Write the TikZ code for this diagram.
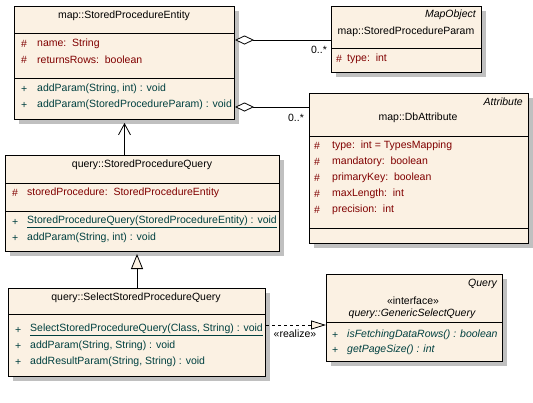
\documentclass[tikz,border=0pt]{standalone}
\usepackage{fontspec}
\setmainfont{Liberation Sans}
\usetikzlibrary{arrows.meta,shadows,calc}
\definecolor{classfill}{RGB}{251,241,227}
\definecolor{attrred}{RGB}{128,0,0}
\definecolor{opteal}{RGB}{0,64,64}
\definecolor{shadowgray}{RGB}{192,192,192}

\begin{document}
\begin{tikzpicture}[x=1pt,y=-1pt,
  font=\fontsize{10.5}{12}\selectfont,
  classbox/.style={draw=black, line width=1pt, fill=classfill, inner sep=0pt, anchor=north west,
    drop shadow={shadow xshift=4pt, shadow yshift=-4pt, fill=shadowgray, opacity=1}},
  txt/.style={inner sep=0pt},
  attr/.style={txt, anchor=west, text=attrred},
  op/.style={txt, anchor=west, text=opteal},
  stereo/.style={txt, anchor=east, font=\fontsize{10.5}{12}\selectfont\itshape},
  sep/.style={line width=1pt},
  link/.style={line width=1pt}
]
\useasboundingbox (0,0) rectangle (533,402);

% map::StoredProcedureEntity
\node[classbox, minimum width=220pt, minimum height=113pt] (entity) at (14,6) {};
\draw[sep] (entity.west |- 0,33) -- (entity.east |- 0,33);
\draw[sep] (entity.west |- 0,78) -- (entity.east |- 0,78);
\node[txt] (entityName) at (124,16) {map::StoredProcedureEntity};
\node[attr] (entityH1) at (21,44) {\#};
\node[attr] (entityA1) at (37,44) {name:\ \ String};
\node[attr] (entityH2) at (21,60) {\#};
\node[attr] (entityA2) at (37,60) {returnsRows:\ \ boolean};
\node[op] (entityP1) at (21,89) {+};
\node[op] (entityM1) at (37,89) {addParam(String, int) : void};
\node[op] (entityP2) at (21,105) {+};
\node[op] (entityM2) at (37,105) {addParam(StoredProcedureParam) : void};

% map::StoredProcedureParam
\node[classbox, minimum width=150pt, minimum height=66pt] (param) at (331,6) {};
\draw[sep] (param.west |- 0,48) -- (param.east |- 0,48);
\node[stereo] (paramSuper) at (476,15) {MapObject};
\node[txt] (paramName) at (406,32) {map::StoredProcedureParam};
\node[attr] (paramH1) at (336,59) {\#};
\node[attr] (paramA1) at (347,59) {type:\ \ int};

% map::DbAttribute
\node[classbox, minimum width=219pt, minimum height=150pt] (dbattr) at (309,93) {};
\draw[sep] (dbattr.west |- 0,136) -- (dbattr.east |- 0,136);
\draw[sep] (dbattr.west |- 0,228) -- (dbattr.east |- 0,228);
\node[stereo] (dbattrSuper) at (523,102) {Attribute};
\node[txt] (dbattrName) at (418,118) {map::DbAttribute};
\node[attr] (dbattrH1) at (314,146) {\#};
\node[attr] (dbattrA1) at (332,146) {type:\ \ int = TypesMapping};
\node[attr] (dbattrH2) at (314,162) {\#};
\node[attr] (dbattrA2) at (332,162) {mandatory:\ \ boolean};
\node[attr] (dbattrH3) at (314,178) {\#};
\node[attr] (dbattrA3) at (332,178) {primaryKey:\ \ boolean};
\node[attr] (dbattrH4) at (314,194) {\#};
\node[attr] (dbattrA4) at (332,194) {maxLength:\ \ int};
\node[attr] (dbattrH5) at (314,210) {\#};
\node[attr] (dbattrA5) at (332,210) {precision:\ \ int};

% query::StoredProcedureQuery
\node[classbox, minimum width=274pt, minimum height=96pt] (query) at (5,155) {};
\draw[sep] (query.west |- 0,183) -- (query.east |- 0,183);
\draw[sep] (query.west |- 0,211) -- (query.east |- 0,211);
\node[txt] (queryName) at (142,165) {query::StoredProcedureQuery};
\node[attr] (queryH1) at (12,193) {\#};
\node[attr] (queryA1) at (27,193) {storedProcedure:\ \ StoredProcedureEntity};
\node[op] (queryP1) at (12,222) {+};
\node[op] (queryM1) at (27,222) {\underline{StoredProcedureQuery(StoredProcedureEntity) : void}};
\node[op] (queryP2) at (12,238) {+};
\node[op] (queryM2) at (27,238) {addParam(String, int) : void};

% query::SelectStoredProcedureQuery
\node[classbox, minimum width=257pt, minimum height=88pt] (select) at (8,288) {};
\draw[sep] (select.west |- 0,314) -- (select.east |- 0,314);
\node[txt] (selectName) at (136,298) {query::SelectStoredProcedureQuery};
\node[op] (selectP1) at (15,330) {+};
\node[op] (selectM1) at (30,330) {\underline{SelectStoredProcedureQuery(Class, String) : void}};
\node[op] (selectP2) at (15,346) {+};
\node[op] (selectM2) at (30,346) {addParam(String, String) : void};
\node[op] (selectP3) at (15,362) {+};
\node[op] (selectM3) at (30,362) {addResultParam(String, String) : void};

% query::GenericSelectQuery
\node[classbox, minimum width=176pt, minimum height=87pt] (generic) at (326,274) {};
\draw[sep] (generic.west |- 0,322) -- (generic.east |- 0,322);
\node[stereo] (genericSuper) at (497,284) {Query};
\node[txt] (genericStereo) at (413,301) {«interface»};
\node[txt, font=\fontsize{10.5}{12}\selectfont\itshape] (genericName) at (412,314) {query::GenericSelectQuery};
\node[op] (genericP1) at (332,335) {+};
\node[op, font=\fontsize{10.5}{12}\selectfont\itshape] (genericM1) at (347,335) {isFetchingDataRows() : boolean};
\node[op] (genericP2) at (332,350) {+};
\node[op, font=\fontsize{10.5}{12}\selectfont\itshape] (genericM2) at (347,350) {getPageSize() : int};

% relations
\draw[link, {Diamond[open, fill=white, length=19pt, width=9pt, line width=0.8pt]}-] (entity.east |- 0,40) -- (param.west |- 0,40);
\node[txt] (paramMult) at (319,50) {0..*};
\draw[link, {Diamond[open, fill=white, length=19pt, width=9pt, line width=0.8pt]}-] (entity.east |- 0,107) -- (dbattr.west |- 0,107);
\node[txt] (dbattrMult) at (296,118) {0..*};

\draw[link, -{Straight Barb[length=11pt, width=12pt, line width=0.8pt]}] (entity.south |- query.north) -- ($(entity.south)+(0,3)$);
\draw[link, -{Triangle[open, fill=classfill, length=15pt, width=12pt, line width=0.8pt]}] (select.north) -- ($(select.north |- query.south)+(0,2)$);
\draw[link, dash pattern=on 3pt off 3pt, -{Triangle[open, fill=classfill, length=15pt, width=9pt, line width=0.8pt]}] (select.east |- 0,325) -- (generic.west |- 0,325);
\node[txt] (realizeLbl) at (295,334) {«realize»};
\end{tikzpicture}
\end{document}
